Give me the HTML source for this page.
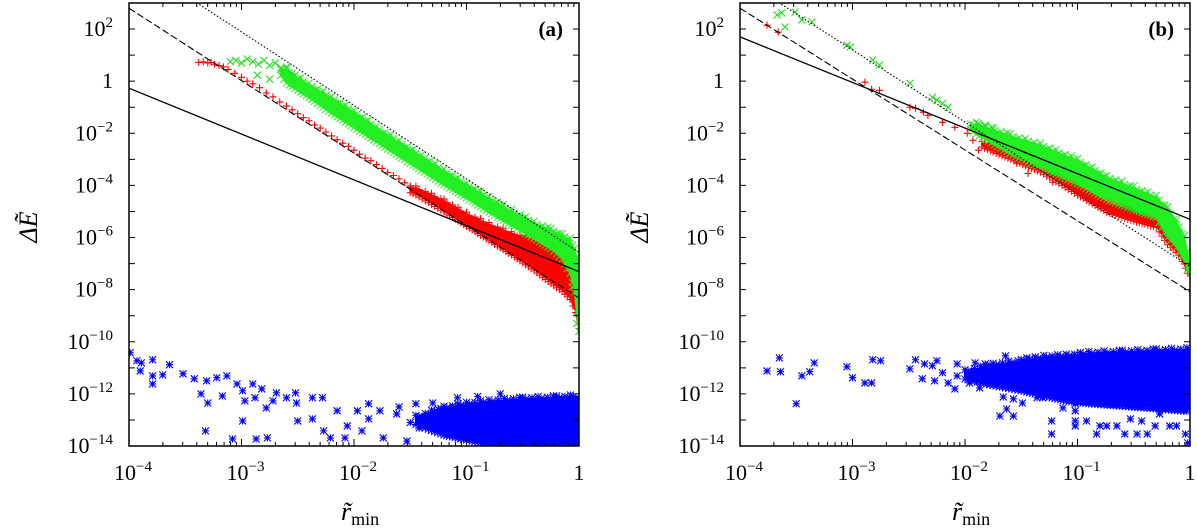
<!DOCTYPE html>
<html><head><meta charset="utf-8"><style>
html,body{margin:0;padding:0;background:#fff;}
svg{display:block;font-family:"Liberation Serif",serif;}
</style></head><body>
<svg id="fig" width="1197" height="531" viewBox="0 0 1197 531" xmlns="http://www.w3.org/2000/svg"></svg>
<script>
// ---- data (log10 values) ----
const A_red_x=[-3.38,-3.34,-3.3,-3.27,-3.24,-3.2,-3.16,-3.12,-3.06,-3.0,-2.95,-2.9,-2.84,-2.78,-2.72,-2.66,-2.6,-2.55,-2.5,-2.45,-2.4,-2.35,-2.3,-2.25,-2.2,-2.15,-2.1,-2.05,-2.0,-1.95,-1.9,-1.85,-1.8,-1.75,-1.7,-1.65,-1.6,-1.55,-1.5,-1.45,-0.02,0];
const A_red_y=[0.72,0.74,0.7,0.72,0.65,0.6,0.55,0.45,0.3,0.15,0.0,-0.1,-0.25,-0.45,-0.6,-0.8,-0.95,-1.1,-1.25,-1.4,-1.52,-1.68,-1.8,-1.95,-2.1,-2.25,-2.38,-2.5,-2.65,-2.8,-2.95,-3.05,-3.2,-3.35,-3.5,-3.62,-3.75,-3.9,-4.02,-4.15,-8.9,-9.5];
const A_red_bx=[-1.5,-1.45,-1.2,-1.0,-0.8,-0.6,-0.4,-0.25,-0.15,-0.08,-0.03,0];
const A_red_hi=[-4.15,-4.1,-4.6,-5.1,-5.5,-5.85,-6.1,-6.3,-6.6,-7.0,-7.6,-8.3];
const A_red_lo=[-4.2,-4.3,-4.95,-5.5,-6.05,-6.6,-7.2,-7.7,-8.0,-8.3,-8.8,-9.5];
const A_grn_x=[-3.1,-3.05,-3.0,-2.95,-2.9,-2.86,-2.85,-2.8,-2.75,-2.75,-2.7,-2.65,-2.6,-2.55,-0.06,-0.02,0];
const A_grn_y=[0.75,0.8,0.7,0.85,0.75,0.23,0.65,0.8,0.08,0.6,0.7,0.45,0.55,0.3,-7.9,-9.3,-9.6];
const A_grn_bx=[-2.65,-2.6,-2.4,-2.2,-2.0,-1.8,-1.6,-1.4,-1.2,-1.0,-0.8,-0.6,-0.4,-0.25,-0.15,-0.08,-0.04,0];
const A_grn_hi=[0.45,0.4,-0.15,-0.65,-1.2,-1.8,-2.35,-2.9,-3.45,-3.98,-4.5,-5.0,-5.45,-5.72,-5.92,-6.1,-6.5,-7.0];
const A_grn_lo=[0.3,0.0,-0.55,-1.15,-1.7,-2.25,-2.8,-3.35,-3.9,-4.4,-4.95,-5.45,-5.95,-6.35,-6.75,-7.3,-8.0,-9.6];
const A_blu_x=[-3.99,-3.93,-3.89,-3.9,-3.79,-3.79,-3.79,-3.64,-3.7,-3.52,-3.42,-3.31,-3.36,-3.3,-3.32,-3.22,-3.13,-3.17,-3.08,-3.04,-2.99,-2.97,-2.99,-2.9,-2.88,-2.87,-2.82,-2.77,-2.78,-2.69,-2.72,-2.6,-2.52,-2.51,-2.5,-2.37,-2.37,-2.28,-2.27,-2.21,-2.15,-2.06,-2.08,-1.97,-1.93,-1.87,-1.87,-1.77,-1.74,-1.62,-1.53,-1.45,-1.42,-1.3,-1.21,-1.08,-1.0,-1.6,-1.5,-1.35,-1.25,-1.15,-0.9,-0.7];
const A_blu_y=[-10.42,-10.73,-10.81,-11.12,-10.69,-11.31,-11.62,-10.88,-11.27,-11.23,-11.42,-11.5,-12.0,-12.35,-13.42,-11.38,-11.31,-12.08,-13.73,-11.62,-11.88,-12.27,-13.04,-11.62,-12.15,-13.73,-11.81,-13.69,-12.54,-11.96,-12.27,-12.15,-11.96,-12.35,-13.04,-12.15,-12.96,-12.15,-13.42,-13.69,-12.65,-13.23,-13.69,-12.65,-13.42,-12.38,-12.96,-12.65,-13.69,-12.77,-13.81,-12.38,-13.31,-12.35,-12.92,-12.15,-13.42,-12.5,-13.1,-12.9,-12.6,-13.3,-12.1,-12.0];
const A_blu_bx=[-1.45,-1.2,-1.0,-0.8,-0.5,-0.2,0];
const A_blu_hi=[-12.9,-12.55,-12.4,-12.3,-12.2,-12.15,-12.1];
const A_blu_lo=[-13.1,-13.5,-13.7,-13.85,-13.95,-13.95,-13.95];

const B_red_x=[-3.76,-3.66,-2.89,-2.83,-2.76,-2.49,-2.44,-2.37,-2.33,-2.2,-2.09,-1.98,-1.93,-1.88,-1.8,-1.54,-1.44,-1.22,-1.13];
const B_red_y=[2.15,1.88,-0.04,-0.31,-0.35,-1.0,-1.04,-1.19,-1.31,-1.58,-1.77,-2.0,-2.27,-2.65,-2.27,-3.15,-3.54,-3.88,-3.5];
const B_red_bx=[-1.85,-1.75,-1.33,-1.0,-0.74,-0.5,-0.3,-0.2,-0.1,-0.04,0];
const B_red_hi=[-2.4,-2.38,-3.04,-3.6,-4.08,-4.45,-4.77,-5.3,-5.9,-6.6,-7.2];
const B_red_lo=[-2.45,-2.65,-3.42,-4.3,-4.96,-5.3,-5.54,-6.2,-6.6,-7.1,-7.5];
const B_grn_x=[-3.67,-3.63,-3.6,-3.51,-3.45,-3.36,-3.05,-3.02,-2.82,-2.76,-2.49,-2.29,-2.25,-2.2,-2.15,-1.88,-1.82,-1.75];
const B_grn_y=[2.54,2.62,2.08,2.65,2.35,2.27,1.38,1.31,0.81,0.62,-0.08,-0.62,-0.73,-0.85,-1.0,-1.62,-1.69,-1.81];
const B_grn_bx=[-1.95,-1.9,-1.6,-1.33,-1.0,-0.74,-0.5,-0.3,-0.2,-0.12,-0.05,0];
const B_grn_hi=[-1.72,-1.65,-2.1,-2.46,-3.05,-3.69,-4.1,-4.46,-4.9,-5.4,-6.0,-7.1];
const B_grn_lo=[-1.78,-1.95,-2.7,-3.23,-3.85,-4.46,-4.85,-5.15,-5.92,-6.3,-6.8,-7.5];
const B_blu_x=[-3.76,-3.65,-3.64,-3.5,-3.45,-3.38,-3.34,-3.05,-3.0,-2.89,-2.83,-2.82,-2.75,-2.49,-2.44,-2.38,-2.36,-2.29,-2.25,-2.2,-2.27,-2.15,-2.09,-2.07,-2.07,-1.96,-1.91,-1.87,-1.82,-1.78,-1.75,-1.69,-1.66,-1.63,-1.64,-1.57,-1.57,-1.49,-1.45,-1.36,-1.31,-1.23,-1.23,-1.13,-1.02,-1.02,-1.02,-1.02,-0.92,-0.83,-0.8,-0.74,-0.65,-0.58,-0.53,-0.47,-0.43,-0.38,-0.31,-0.27,-0.18,-0.12,-0.04,-0.02];
const B_blu_y=[-11.12,-10.62,-11.15,-12.38,-11.31,-11.15,-10.81,-10.96,-11.38,-11.58,-11.58,-10.69,-10.73,-11.04,-10.69,-11.42,-10.85,-10.92,-10.73,-11.19,-11.5,-11.58,-11.81,-10.85,-11.31,-11.58,-10.81,-11.77,-10.85,-11.62,-11.12,-12.85,-12.12,-12.58,-10.54,-12.85,-12.19,-12.35,-10.62,-12.15,-12.15,-13.04,-13.54,-12.54,-12.38,-12.65,-13.04,-13.23,-13.04,-13.54,-13.23,-13.23,-13.23,-13.54,-12.96,-13.54,-13.04,-13.54,-13.23,-12.77,-13.23,-13.23,-13.54,-13.88];
const B_blu_bx=[-2.0,-1.75,-1.5,-1.3,-1.1,-0.9,-0.6,-0.3,0];
const B_blu_hi=[-11.15,-10.9,-10.75,-10.6,-10.55,-10.45,-10.4,-10.35,-10.3];
const B_blu_lo=[-11.35,-11.6,-11.8,-12.0,-12.2,-12.3,-12.4,-12.5,-12.6];

// reference lines: [log10 y at x=1e-4, slope, style]
const A_lines=[[-0.27,-1.76,'solid'],[2.8,-2.78,'dashed'],[4.71,-2.82,'dotted']];
const B_lines=[[1.7,-1.75,'solid'],[2.8,-2.72,'dashed'],[3.97,-2.77,'dotted']];
const yTickExps=[2,0,-2,-4,-6,-8,-10,-12,-14];
const xTickExps=[-4,-3,-2,-1,0];

const NS='http://www.w3.org/2000/svg';
const svg=document.getElementById('fig');
function el(tag,attrs,parent){const e=document.createElementNS(NS,tag);for(const k in attrs)e.setAttribute(k,attrs[k]);(parent||svg).appendChild(e);return e;}

function panel(X0,tag,d){
  const L=X0,R=X0+450,T=3,B=446;
  const sx=v=>L+(v+4)*(R-L)/4;
  const sy=v=>B-(v+14)*(B-T)/17;
  const g=el('g',{});
  
  
  const clipId='clip'+tag;
  const cp=el('clipPath',{id:clipId},g);el('rect',{x:L,y:T,width:R-L,height:B-T},cp);
  const pg=el('g',{'clip-path':'url(#'+clipId+')'},g);
  const S=3.5;
  function mk(cx,cy,type){
    let dd='';
    if(type!=='x')dd+=`M${cx-S} ${cy}H${cx+S}M${cx} ${cy-S}V${cy+S}`;
    if(type!=='+')dd+=`M${cx-S} ${cy-S}L${cx+S} ${cy+S}M${cx-S} ${cy+S}L${cx+S} ${cy-S}`;
    return dd;
  }
  function band(bx,hi,lo,col,type,name){
    let p=bx.map((x,i)=>sx(x)+','+sy(hi[i]));
    for(let i=bx.length-1;i>=0;i--)p.push(sx(bx[i])+','+sy(lo[i]));
    const e=el('polygon',{points:p.join(' '),fill:col,stroke:col,'stroke-width':2,'stroke-linejoin':'round'},pg);
    
    
    // ragged edge markers along band outline
    let dd='';
    for(let i=0;i<bx.length-1;i++){
      const x0=sx(bx[i]),x1=sx(bx[i+1]);const n=Math.max(1,Math.round((x1-x0)/3));
      for(let k=0;k<n;k++){const f=k/n;const x=x0+f*(x1-x0);
        const yh=sy(hi[i]+f*(hi[i+1]-hi[i])),yl=sy(lo[i]+f*(lo[i+1]-lo[i]));
        dd+=mk(x,yh+((k*7)%5)-2,type)+mk(x,yl-((k*5)%5)+2,type);}
    }
    const ed=el('path',{d:dd,stroke:col,'stroke-width':1,fill:'none'},pg);
    
    
  }
  function marks(xs,ys,col,type,name){
    let dd='';
    xs.forEach((x,i)=>{dd+=mk(sx(x),sy(ys[i]),type);});
    const gg=el('path',{d:dd,stroke:col,'stroke-width':1.1,fill:'none'},pg);
    
    
  }
  band(d.rbx,d.rhi,d.rlo,'#ff0000','+','red-dense-'+tag);
  marks(d.rx,d.ry,'#ff0000','+','red-points-'+tag);
  band(d.gbx,d.ghi,d.glo,'#22ee22','x','green-dense-'+tag);
  marks(d.gx,d.gy,'#22dd22','x','green-points-'+tag);
  band(d.bbx,d.bhi,d.blo,'#0000ff','*','blue-dense-'+tag);
  marks(d.bx,d.by,'#0000ff','*','blue-points-'+tag);
  d.lines.forEach((ln)=>{
    const e=el('line',{x1:sx(-4),y1:sy(ln[0]),x2:sx(0),y2:sy(ln[0]+4*ln[1]),stroke:'#000','stroke-width':ln[2]==='solid'?1.3:1.1,'stroke-dasharray':ln[2]==='dashed'?'7,3':(ln[2]==='dotted'?'1.5,2':'none')},pg);
    
    
  });
  const fr=el('rect',{x:L,y:T,width:R-L,height:B-T,fill:'none',stroke:'#000','stroke-width':1.5},g);
  
  
  for(let e=3;e>=-14;e--){const y=sy(e);el('path',{d:`M${L} ${y}h6M${R} ${y}h-6`,stroke:'#000','stroke-width':1},g);}
  yTickExps.forEach(e=>{
    const t=el('text',{x:L-16,y:sy(e)+7,'text-anchor':'end','font-size':22},g);
    
    
    if(e===0)t.textContent='1';else{t.appendChild(document.createTextNode('10'));const ts=el('tspan',{dy:-9,'font-size':15},t);ts.textContent=(e<0?'\u2212':'')+Math.abs(e);}
  });
  for(let e=-4;e<=0;e++){
    const x=sx(e);el('path',{d:`M${x} ${B}v-7M${x} ${T}v7`,stroke:'#000','stroke-width':1},g);
    if(e<0)for(let m=2;m<10;m++){const xm=sx(e+Math.log10(m));el('path',{d:`M${xm} ${B}v-4M${xm} ${T}v4`,stroke:'#000','stroke-width':1},g);}
  }
  xTickExps.forEach(e=>{
    const t=el('text',{x:sx(e)+(e===0?0:4),y:480,'text-anchor':'middle','font-size':22},g);
    
    
    if(e===0)t.textContent='1';else{t.appendChild(document.createTextNode('10'));const ts=el('tspan',{dy:-9,'font-size':15},t);ts.textContent='\u2212'+Math.abs(e);}
  });
  const lab=el('text',{x:R-16,y:36,'text-anchor':'end','font-size':21,'font-weight':'bold'},g);
  lab.textContent='('+tag+')';
  
  
  const yt=el('text',{x:0,y:0,transform:`translate(${X0-92},227) rotate(-90)`,'text-anchor':'middle','font-size':26,'font-style':'italic'},g);
  yt.textContent='\u0394\u1EBC';
  
  
  const xt=el('text',{x:L+212,y:520,'font-size':26,'font-style':'italic'},g);
  xt.appendChild(document.createTextNode('r\u0303'));
  const sub=el('tspan',{dy:5,'font-size':18,'font-style':'normal'},xt);sub.textContent='min';
  
  
}
panel(129,'a',{rx:A_red_x,ry:A_red_y,rbx:A_red_bx,rhi:A_red_hi,rlo:A_red_lo,gx:A_grn_x,gy:A_grn_y,gbx:A_grn_bx,ghi:A_grn_hi,glo:A_grn_lo,bx:A_blu_x,by:A_blu_y,bbx:A_blu_bx,bhi:A_blu_hi,blo:A_blu_lo,lines:A_lines});
panel(740,'b',{rx:B_red_x,ry:B_red_y,rbx:B_red_bx,rhi:B_red_hi,rlo:B_red_lo,gx:B_grn_x,gy:B_grn_y,gbx:B_grn_bx,ghi:B_grn_hi,glo:B_grn_lo,bx:B_blu_x,by:B_blu_y,bbx:B_blu_bx,bhi:B_blu_hi,blo:B_blu_lo,lines:B_lines});
</script>
</body></html>
